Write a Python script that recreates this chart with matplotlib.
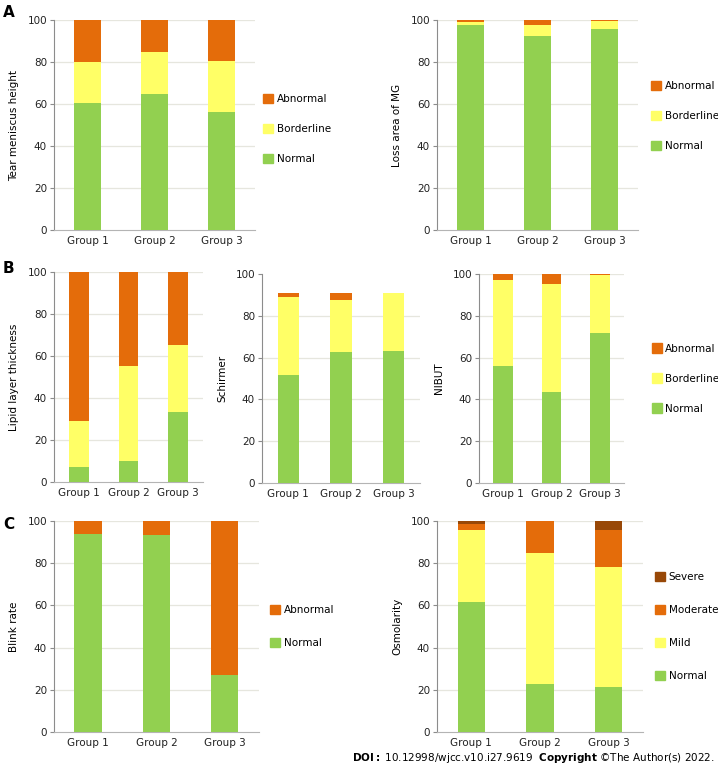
import matplotlib
matplotlib.use("Agg")
import matplotlib.pyplot as plt
from matplotlib.patches import Patch

plt.rcParams['font.family'] = ['DejaVu Sans']
plt.rcParams['font.size'] = 7.5

groups = ['Group 1', 'Group 2', 'Group 3']

# stacked percentages, bottom -> top
tear_normal = [60.6, 64.8, 56.2]
tear_border = [19.4, 20.1, 24.1]
tear_abn = [20.0, 15.1, 19.7]

mg_normal = [97.6, 92.5, 95.6]
mg_border = [1.6, 5.3, 4.0]
mg_abn = [0.8, 2.2, 0.4]

lipid_normal = [7.0, 10.0, 33.3]
lipid_border = [21.8, 45.1, 31.8]
lipid_abn = [71.2, 44.9, 34.9]

schirmer_normal = [51.8, 62.5, 63.2]
schirmer_border = [37.0, 25.2, 27.5]
schirmer_abn = [1.9, 3.0, 0.0]

nibut_normal = [56.1, 43.5, 71.9]
nibut_border = [40.9, 51.6, 27.6]
nibut_abn = [3.0, 4.9, 0.5]

blink_normal = [93.8, 93.4, 26.9]
blink_abn = [6.2, 6.6, 73.1]

osm_normal = [61.5, 22.7, 21.3]
osm_mild = [34.2, 62.3, 57.1]
osm_moderate = [3.0, 15.0, 17.2]
osm_severe = [1.3, 0.0, 4.4]

GREEN = '#92D050'
YELLOW = '#FFFF66'
ORANGE = '#E46C0A'
BROWN = '#984807'

fig = plt.figure(figsize=(7.18, 7.66), dpi=100)


def panel(rect, series, colors, ylabel, labels=None, leg_anchor=None, leg_space=1.9, grid100=True):
    ax = fig.add_axes(rect)
    x = range(len(groups))
    bottom = [0.0] * len(groups)
    for vals, col in zip(series, colors):
        ax.bar(x, vals, 0.4, bottom=bottom, color=col, edgecolor='none', zorder=3)
        bottom = [b + v for b, v in zip(bottom, vals)]
    ax.set_xlim(-0.5, 2.5)
    ax.set_ylim(0, 100)
    ax.set_yticks([0, 20, 40, 60, 80, 100])
    ax.set_xticks(list(x))
    ax.set_xticklabels(groups)
    ticks = [20, 40, 60, 80, 100] if grid100 else [20, 40, 60, 80]
    for t in ticks:
        ax.axhline(t, color='#E6E6DE', lw=0.9, zorder=1)
    for s in ['top', 'right']:
        ax.spines[s].set_visible(False)
    ax.spines['left'].set_color('#8C8C8C')
    ax.spines['bottom'].set_color('#B4B4B4')
    ax.tick_params(axis='y', length=3, color='#8C8C8C', pad=2, labelcolor='#222222')
    ax.tick_params(axis='x', length=0, pad=4, labelcolor='#222222')
    ax.set_ylabel(ylabel, labelpad=6)
    if labels:
        handles = [Patch(color=c, label=l) for c, l in zip(colors, labels)][::-1]
        ax.legend(handles=handles, loc='center left', bbox_to_anchor=leg_anchor,
                  frameon=False, handlelength=1.0, handleheight=1.0,
                  handletextpad=0.3, labelspacing=leg_space, borderpad=0,
                  borderaxespad=0)
    return ax


lvl3 = ['Normal', 'Borderline', 'Abnormal']
c3 = [GREEN, YELLOW, ORANGE]

panel([0.0752, 0.6997, 0.280, 0.2742], [tear_normal, tear_border, tear_abn], c3,
      'Tear meniscus height', lvl3, (1.04, 0.48))
panel([0.6086, 0.6997, 0.280, 0.2742], [mg_normal, mg_border, mg_abn], c3,
      'Loss area of MG', lvl3, (1.065, 0.543))

panel([0.0752, 0.3708, 0.2075, 0.2742], [lipid_normal, lipid_border, lipid_abn], c3,
      'Lipid layer thickness')
panel([0.3649, 0.3695, 0.220, 0.2728], [schirmer_normal, schirmer_border, schirmer_abn], c3,
      'Schirmer', grid100=False)
panel([0.6671, 0.3695, 0.202, 0.2728], [nibut_normal, nibut_border, nibut_abn], c3,
      'NIBUT', lvl3, (1.19, 0.50))

panel([0.0752, 0.0444, 0.2855, 0.2755], [blink_normal, blink_abn], [GREEN, ORANGE],
      'Blink rate', ['Normal', 'Abnormal'], (1.054, 0.50), leg_space=2.2)
panel([0.6086, 0.0444, 0.287, 0.2755], [osm_normal, osm_mild, osm_moderate, osm_severe],
      [GREEN, YELLOW, ORANGE, BROWN], 'Osmolarity',
      ['Normal', 'Mild', 'Moderate', 'Severe'], (1.058, 0.50), leg_space=2.2)

for letter, y in [('A', 0.993), ('B', 0.659), ('C', 0.325)]:
    fig.text(0.004, y, letter, fontsize=11, fontweight='bold', va='top')

fig.text(0.995, 0.006, r"$\bf{DOI:}$ 10.12998/wjcc.v10.i27.9619  $\bf{Copyright}$ ©The Author(s) 2022.",
         ha='right', va='baseline', fontsize=7.5)

fig.savefig('out.png', dpi=100)
